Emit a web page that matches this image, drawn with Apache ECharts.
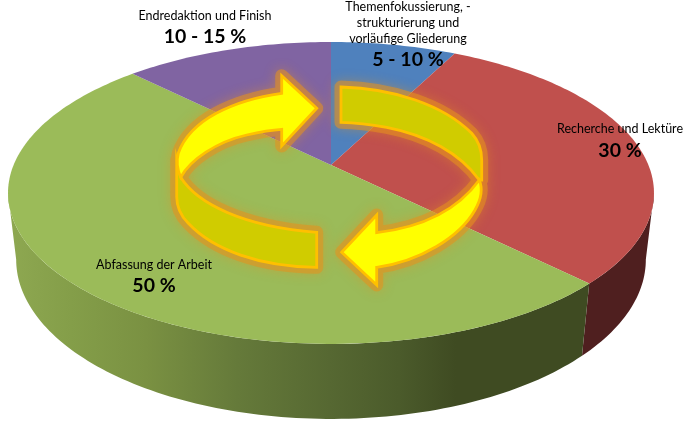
<!DOCTYPE html>
<html><head><meta charset="utf-8">
<style>html,body{margin:0;padding:0;background:#fff}#c{width:684px;height:422px}</style>
<script src="https://cdn.jsdelivr.net/npm/echarts@6/dist/echarts.min.js"></script>
</head><body><div id="c"></div>
<script>
// Data
var sliceNames = ['Themenfokussierung, -\nstrukturierung und\nvorläufige Gliederung', 'Recherche und Lektüre', 'Abfassung der Arbeit', 'Endredaktion und Finish'];
var sliceValues = [7.5, 30, 50, 12.5];
var rangeLabels = ['5 - 10 %', '30 %', '50 %', '10 - 15 %'];
var topColors = ['#4f81bd', '#c0504d', '#9bbb59', '#8064a2'];

// Perspective of the tilted pie
var CX = 331, CY = 165, A = 317.4, B = 145.8, K = 0.185, DROP = 67.5, E = 0.025;
function project(theta, low) {
  var u = Math.sin(theta), v = -Math.cos(theta);
  var w = 1 - K * v + (low ? E : 0);
  return [CX + A * u / w, CY + (B * v + (low ? DROP : 0)) / w];
}
function sliceRange(i) {
  var total = sliceValues.reduce(function (a, b) { return a + b; }, 0), before = 0;
  for (var k = 0; k < i; k++) before += sliceValues[k];
  return [before / total * 2 * Math.PI, (before + sliceValues[i]) / total * 2 * Math.PI];
}
function arc(r, low) {
  var pts = [], n = Math.ceil((r[1] - r[0]) / 0.02);
  for (var j = 0; j <= n; j++) pts.push(project(r[0] + (r[1] - r[0]) * j / n, low));
  return pts;
}
// Only the front part of the wall is visible: clip to the left and right silhouette of each rim
function frontArc(r, low) {
  var right = Math.acos(-K / (low ? 1 + E : 1)), left = 2 * Math.PI - right;
  var a = Math.max(r[0], right), b = Math.min(r[1], left);
  return a < b ? arc([a, b], low) : null;
}
var sideFills = [
  '#2f4a6e',
  '#4f1f1f',
  { type: 'linear', x: 8, y: 0, x2: 582, y2: 0, global: true, colorStops: [
    { offset: 0, color: '#8ea851' }, { offset: 0.11, color: '#849e49' }, { offset: 0.24, color: '#7a9142' },
    { offset: 0.40, color: '#657a3a' }, { offset: 0.56, color: '#566832' }, { offset: 0.68, color: '#4b5b2b' },
    { offset: 0.78, color: '#3f4b22' }, { offset: 1, color: '#3f4b22' }] },
  '#4c3c62'
];
function renderSide(params, api) {
  var i = params.dataIndex, r = sliceRange(i);
  var t = frontArc(r, false), l = frontArc(r, true);
  if (!t || !l) return null;
  return { type: 'polygon', shape: { points: t.concat(l.reverse()) }, style: { fill: sideFills[i] } };
}
function renderTop(params, api) {
  var i = params.dataIndex, r = sliceRange(i);
  return { type: 'polygon', shape: { points: [[CX, CY]].concat(arc(r, false)) }, style: { fill: topColors[i] } };
}

// Decorative cycle arrows, written in 3x zoom coordinates of the region starting at (160,70)
function tp(s) {
  var n = 0;
  return s.replace(/-?\d+(\.\d+)?/g, function (m) {
    var isX = (n++ % 2 === 0);
    return ((isX ? 160 : 70) + parseFloat(m) / 3).toFixed(1);
  });
}
var bandTop = 'M543 51 C700 55 850 105 935 190 C958 215 965 245 965 270 L965 330 L958 330 C900 250 800 195 680 172 C630 163 590 158 543 157 Z';
var bandBottom = 'M470 487 L470 592 C300 590 160 540 85 460 C60 435 50 410 50 380 L50 270 L62 322 C110 400 250 470 470 487 Z';
var arrowTop = 'M470 115 L365 17 L365 70 C220 90 90 150 55 250 C48 275 55 305 62 322 C90 270 170 215 260 195 C295 187 330 180 365 178 L365 228 Z';
var arrowBottom = 'M545 547 L650 435 L650 488 C800 470 900 410 958 330 C968 355 965 385 945 420 C900 500 780 575 650 592 L650 645 Z';
var arrowShapes = [[bandTop, '#d0cc00'], [bandBottom, '#d0cc00'], [arrowTop, '#ffff00'], [arrowBottom, '#ffff00']];
function renderArrows() {
  var kids = [];
  var glow = arrowShapes.map(function (s) { return tp(s[0]); }).join(' ');
  kids.push({ type: 'path', z2: 1, shape: { pathData: glow },
    style: { fill: 'none', stroke: 'rgba(230,145,30,0.55)', lineWidth: 13, lineJoin: 'round', shadowBlur: 12, shadowColor: 'rgba(230,145,30,0.75)' } });
  arrowShapes.forEach(function (s) {
    kids.push({ type: 'path', z2: 2, shape: { pathData: tp(s[0]) },
      style: { fill: s[1], stroke: '#ffc000', lineWidth: 2.8, lineJoin: 'miter' } });
  });
  return { type: 'group', children: kids };
}
function labelEls() {
  var nameFont = '12.5px Lato, "Open Sans", sans-serif', valFont = 'bold 19.5px Lato, "Open Sans", sans-serif';
  var place = [[408, 7, 16, 60], [620, 129, 16, 151], [154, 265, 16, 286], [205, 16, 16, 37]];
  var out = [];
  sliceNames.forEach(function (name, i) {
    var p = place[i];
    name.split('\n').forEach(function (line, j) {
      out.push({ type: 'text', z: 20, silent: true, x: p[0], y: p[1] + j * p[2],
        style: { text: line, font: nameFont, fill: '#000', align: 'center', verticalAlign: 'middle' } });
    });
    out.push({ type: 'text', z: 20, silent: true, x: p[0], y: p[3],
      style: { text: rangeLabels[i], font: valFont, fill: '#000', align: 'center', verticalAlign: 'middle' } });
  });
  return out;
}

var chart = echarts.init(document.getElementById('c'), null, { renderer: 'canvas' });
chart.setOption({
  animation: false,
  backgroundColor: '#fff',
  series: [
    { type: 'custom', coordinateSystem: 'none', z: 1, silent: true, renderItem: renderSide, data: sliceValues },
    { type: 'custom', coordinateSystem: 'none', z: 2, silent: true, renderItem: renderTop, data: sliceValues },
    { type: 'custom', coordinateSystem: 'none', z: 3, silent: true, renderItem: renderArrows, data: [1] }
  ],
  graphic: { elements: labelEls() }
});
</script></body></html>
